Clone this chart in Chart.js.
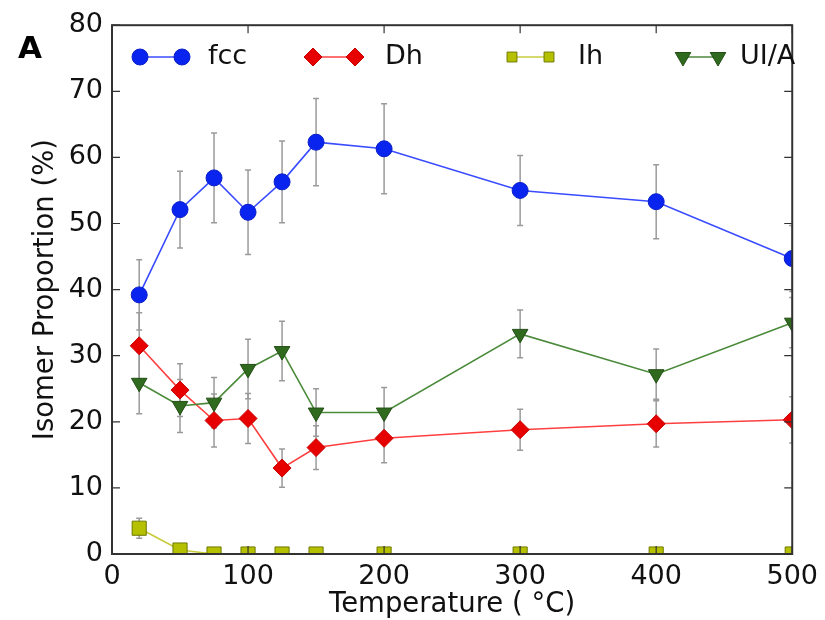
<!DOCTYPE html>
<html>
<head>
<meta charset="utf-8">
<script src="https://cdn.jsdelivr.net/npm/chart.js@4"></script>
<style>
    html, body { margin: 0; padding: 0; background: #fff; }
</style>
</head>
<body>
<canvas id="myChart" width="825" height="620"></canvas>
<script>
// temperatures (deg C)
var temps = [20, 50, 75, 100, 125, 150, 200, 300, 400, 500];

// isomer proportions (%) and their error bars
var fcc = [39.2, 52.1, 56.9, 51.7, 56.3, 62.3, 61.3, 55.0, 53.3, 44.7];
var fccErr = [5.3, 5.8, 6.8, 6.4, 6.2, 6.6, 6.8, 5.3, 5.6, 5.0];
var dh = [31.5, 24.8, 20.2, 20.5, 13.0, 16.1, 17.5, 18.8, 19.7, 20.3];
var dhErr = [5.0, 4.0, 4.0, 3.8, 2.9, 3.3, 3.7, 3.1, 3.5, 3.5];
var ih = [3.9, 0.6, 0, 0, 0, 0, 0, 0, 0, 0];
var ihErr = [1.5, 0.5, 0, 0, 0, 0, 0, 0, 0, 0];
var uia = [25.9, 22.4, 22.9, 28.0, 30.7, 21.4, 21.4, 33.3, 27.2, 35.0];
var uiaErr = [4.7, 4.0, 3.8, 4.5, 4.5, 3.6, 3.8, 3.6, 3.8, 3.8];

var seriesNames = ['fcc', 'Dh', 'Ih', 'UI/A'];
var xTicks = [0, 100, 200, 300, 400, 500];
var yTicks = [0, 10, 20, 30, 40, 50, 60, 70, 80];

var FONT = "'DejaVu Sans', sans-serif";

function points(ys) {
    var out = [];
    for (var i = 0; i < temps.length; i++) {
        out.push({x: temps[i], y: ys[i]});
    }
    return out;
}

// error bars drawn under the markers
var errorBars = {
    id: 'errorBars',
    beforeDatasetsDraw: function (chart) {
        var ctx = chart.ctx;
        var xs = chart.scales.x, ys = chart.scales.y, area = chart.chartArea;
        ctx.save();
        ctx.beginPath();
        ctx.rect(area.left, area.top, area.right - area.left, area.bottom - area.top);
        ctx.clip();
        ctx.strokeStyle = '#9a9a9a';
        ctx.lineWidth = 1.5;
        chart.data.datasets.forEach(function (ds) {
            var errs = ds.errors;
            if (!errs) return;
            ds.data.forEach(function (p, i) {
                if (!errs[i]) return;
                var x = xs.getPixelForValue(p.x);
                var y1 = ys.getPixelForValue(p.y - errs[i]);
                var y2 = ys.getPixelForValue(p.y + errs[i]);
                ctx.beginPath();
                ctx.moveTo(x, y1); ctx.lineTo(x, y2);
                ctx.moveTo(x - 3, y1); ctx.lineTo(x + 3, y1);
                ctx.moveTo(x - 3, y2); ctx.lineTo(x + 3, y2);
                ctx.stroke();
            });
        });
        ctx.restore();
    }
};

// matplotlib-like frame with inward ticks, the legend and the panel letter
var frame = {
    id: 'frame',
    afterDraw: function (chart) {
        var ctx = chart.ctx;
        var xs = chart.scales.x, ys = chart.scales.y, a = chart.chartArea;
        ctx.save();
        ctx.strokeStyle = '#333';
        ctx.lineWidth = 2;
        ctx.strokeRect(a.left, a.top, a.right - a.left, a.bottom - a.top);
        ctx.lineWidth = 1.2;
        ctx.beginPath();
        xs.ticks.forEach(function (t) {
            var x = xs.getPixelForValue(t.value);
            ctx.moveTo(x, a.bottom); ctx.lineTo(x, a.bottom - 8);
            ctx.moveTo(x, a.top); ctx.lineTo(x, a.top + 8);
        });
        ys.ticks.forEach(function (t) {
            var y = ys.getPixelForValue(t.value);
            ctx.moveTo(a.left, y); ctx.lineTo(a.left + 8, y);
            ctx.moveTo(a.right, y); ctx.lineTo(a.right - 8, y);
        });
        ctx.stroke();

        // legend
        var legendX = [140, 313, 512, 683];
        var legendW = [42, 42, 37, 35];
        var legendText = [208, 385, 578, 740];
        var legendSize = [8, 9, 7, 9];
        var legendY = 57;
        ctx.font = '27px ' + FONT;
        ctx.textBaseline = 'middle';
        ctx.textAlign = 'left';
        chart.data.datasets.forEach(function (ds, i) {
            var x0 = legendX[i], x1 = x0 + legendW[i];
            ctx.strokeStyle = ds.borderColor;
            ctx.lineWidth = ds.borderWidth;
            ctx.beginPath();
            ctx.moveTo(x0, legendY); ctx.lineTo(x1, legendY);
            ctx.stroke();
            [x0, x1].forEach(function (x) {
                ctx.fillStyle = ds.pointBackgroundColor;
                ctx.strokeStyle = ds.pointBorderColor;
                ctx.lineWidth = 1;
                Chart.helpers.drawPoint(ctx, {
                    pointStyle: ds.pointStyle,
                    radius: legendSize[i],
                    rotation: ds.pointRotation || 0,
                    borderWidth: 1
                }, x, legendY);
            });
            ctx.fillStyle = '#111';
            ctx.fillText(ds.label, legendText[i], legendY);
        });

        // panel letter
        ctx.font = 'bold 31px ' + FONT;
        ctx.textBaseline = 'alphabetic';
        ctx.fillStyle = '#000';
        ctx.fillText('A', 18, 58);
        ctx.restore();
    }
};

function series(label, ys, errs, color, edge, line, style, radius, order, rot) {
    return {
        label: label,
        data: points(ys),
        errors: errs,
        borderColor: line,
        borderWidth: 1.6,
        pointBackgroundColor: color,
        pointBorderColor: edge,
        pointBorderWidth: 1,
        pointStyle: style,
        pointRadius: radius,
        pointRotation: rot || 0,
        pointHoverRadius: radius,
        order: order,
        clip: 0,
        tension: 0
    };
}

var ctx = document.getElementById('myChart').getContext('2d');
var chart = new Chart(ctx, {
    type: 'line',
    data: {
        datasets: [
            series(seriesNames[0], fcc, fccErr, '#0a24f0', '#0a1ec8', '#3a4cff', 'circle', 8, 4),
            series(seriesNames[1], dh, dhErr, '#e60000', '#c80000', '#ff4040', 'rectRot', 9, 3),
            series(seriesNames[2], ih, ihErr, '#b4c000', '#6f7a00', '#c8cc3a', 'rect', 10, 2),
            series(seriesNames[3], uia, uiaErr, '#2f6a1e', '#234f16', '#4a8a3a', 'triangle', 9, 1, 180)
        ]
    },
    options: {
        responsive: false,
        animation: false,
        devicePixelRatio: 1,
        layout: { padding: { top: 23, right: 29, left: 0, bottom: 0 } },
        plugins: {
            legend: { display: false },
            tooltip: { enabled: false }
        },
        scales: {
            x: {
                type: 'linear',
                min: 0,
                max: 500,
                afterFit: function (s) { s.height = 66; },
                afterBuildTicks: function (s) {
                    s.ticks = xTicks.map(function (v) { return {value: v}; });
                },
                grid: { display: false, drawTicks: false },
                border: { display: false },
                ticks: { color: '#111', padding: 7, font: { family: FONT, size: 27 } },
                title: {
                    display: true,
                    text: 'Temperature ( °C)',
                    color: '#111',
                    font: { family: FONT, size: 27.5 },
                    padding: { top: 0, bottom: -1 }
                }
            },
            y: {
                min: 0,
                max: 80,
                afterFit: function (s) { s.width = 112; },
                afterBuildTicks: function (s) {
                    s.ticks = yTicks.map(function (v) { return {value: v}; });
                },
                grid: { display: false, drawTicks: false },
                border: { display: false },
                ticks: { color: '#111', padding: 9, font: { family: FONT, size: 27 } },
                title: {
                    display: true,
                    text: 'Isomer Proportion (%)',
                    color: '#111',
                    font: { family: FONT, size: 27.5 },
                    padding: { top: 29, bottom: 0 }
                }
            }
        }
    },
    plugins: [errorBars, frame]
});
</script>
</body>
</html>
